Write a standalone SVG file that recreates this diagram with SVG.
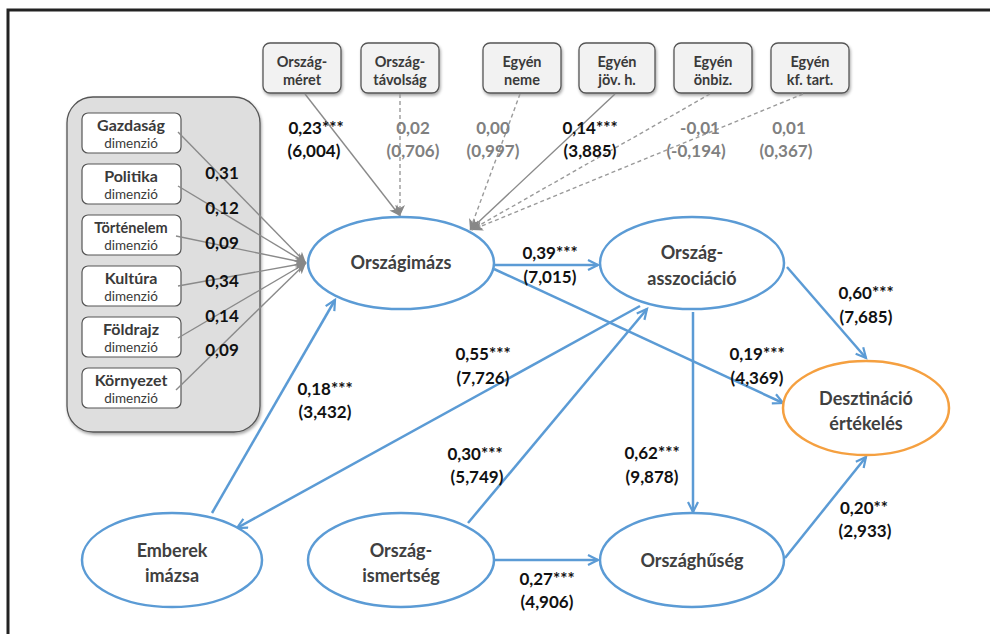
<svg xmlns="http://www.w3.org/2000/svg" width="990" height="634" viewBox="0 0 990 634">
<defs>
<filter id="sh" x="-10%" y="-10%" width="130%" height="140%">
<feDropShadow dx="1" dy="2" stdDeviation="1.5" flood-color="#000" flood-opacity="0.35"/>
</filter>
<marker id="ab" markerUnits="userSpaceOnUse" markerWidth="14" markerHeight="14" refX="11" refY="6" orient="auto">
<path d="M1,1 L11,6 L1,11" fill="none" stroke="#5b9bd5" stroke-width="2.2"/>
</marker>
<marker id="ag" markerUnits="userSpaceOnUse" markerWidth="14" markerHeight="14" refX="11" refY="6" orient="auto">
<path d="M0,1 L11,6 L0,11 L3,6 Z" fill="#888"/>
</marker>
</defs>
<style>
text{font-family:Lato,"Open Sans","Liberation Sans",sans-serif;font-weight:bold;text-anchor:middle}
.box{fill:#f2f2f2;stroke:#555;stroke-width:1.3}
.dim{fill:#fff;stroke:#555;stroke-width:1.2}
.bt{font-size:14.5px;fill:#3a3a3a}
.dn{font-size:16px;fill:#3a3a3a}
.ds{font-size:13.5px;font-weight:normal;fill:#3a3a3a}
.ell{fill:#fff;stroke:#5b9bd5;stroke-width:2.5}
.ell2{fill:#fff;stroke:#f5a040;stroke-width:2.5}
.nt{font-size:18px;fill:#404040}
.lb{font-size:17px;fill:#111}
.lg{font-size:17px;fill:#808080}
.bl{stroke:#5b9bd5;stroke-width:2.5;fill:none;marker-end:url(#ab)}
.gs{stroke:#8a8a8a;stroke-width:1.4;fill:none;marker-end:url(#ag)}
.gd{stroke:#9a9a9a;stroke-width:1.4;fill:none;stroke-dasharray:4,3;marker-end:url(#ag)}
</style>
<rect x="0" y="0" width="990" height="634" fill="#fff"/>
<rect x="8" y="10" width="1000" height="700" fill="none" stroke="#222" stroke-width="3"/>

<g id="panel">
<rect x="67" y="97" width="193" height="335" rx="26" fill="#dedede" stroke="#555" stroke-width="1.3" filter="url(#sh)"/>
</g>
<g id="dim-gazdasag"><rect class="dim" x="82" y="113" width="99" height="40" rx="6"/><text class="dn" x="131" y="131">Gazdaság</text><text class="ds" x="131" y="148">dimenzió</text></g>
<g id="dim-politika"><rect class="dim" x="82" y="164" width="99" height="40" rx="6"/><text class="dn" x="131" y="182">Politika</text><text class="ds" x="131" y="199">dimenzió</text></g>
<g id="dim-tortenelem"><rect class="dim" x="82" y="215" width="99" height="40" rx="6"/><text class="dn" x="131" y="233" style="font-size:14.5px">Történelem</text><text class="ds" x="131" y="250">dimenzió</text></g>
<g id="dim-kultura"><rect class="dim" x="82" y="266" width="99" height="40" rx="6"/><text class="dn" x="131" y="284">Kultúra</text><text class="ds" x="131" y="301">dimenzió</text></g>
<g id="dim-foldrajz"><rect class="dim" x="82" y="317" width="99" height="40" rx="6"/><text class="dn" x="131" y="335">Földrajz</text><text class="ds" x="131" y="352">dimenzió</text></g>
<g id="dim-kornyezet"><rect class="dim" x="82" y="368" width="99" height="40" rx="6"/><text class="dn" x="131" y="386">Környezet</text><text class="ds" x="131" y="403">dimenzió</text></g>

<g id="box-orszagmeret"><rect class="box" x="263" y="43" width="78" height="50" rx="7" filter="url(#sh)"/><text class="bt" x="302" y="67">Ország-</text><text class="bt" x="302" y="85">méret</text></g>
<g id="box-orszagtavolsag"><rect class="box" x="361" y="43" width="78" height="50" rx="7" filter="url(#sh)"/><text class="bt" x="400" y="67">Ország-</text><text class="bt" x="400" y="85">távolság</text></g>
<g id="box-egyenneme"><rect class="box" x="483" y="43" width="78" height="50" rx="7" filter="url(#sh)"/><text class="bt" x="522" y="67">Egyén</text><text class="bt" x="522" y="85">neme</text></g>
<g id="box-egyenjov"><rect class="box" x="579" y="43" width="76" height="50" rx="7" filter="url(#sh)"/><text class="bt" x="617" y="67">Egyén</text><text class="bt" x="617" y="85">jöv. h.</text></g>
<g id="box-egyenonbiz"><rect class="box" x="674" y="43" width="78" height="50" rx="7" filter="url(#sh)"/><text class="bt" x="713" y="67">Egyén</text><text class="bt" x="713" y="85">önbiz.</text></g>
<g id="box-egyenkf"><rect class="box" x="771" y="43" width="78" height="50" rx="7" filter="url(#sh)"/><text class="bt" x="810" y="67">Egyén</text><text class="bt" x="810" y="85">kf. tart.</text></g>

<g id="connectors">
<line class="gs" x1="178" y1="132" x2="306" y2="263"/>
<line class="gs" x1="178" y1="186" x2="306" y2="263"/>
<line class="gs" x1="176" y1="236" x2="306" y2="263"/>
<line class="gs" x1="178" y1="286" x2="306" y2="263"/>
<line class="gs" x1="178" y1="338" x2="306" y2="263"/>
<line class="gs" x1="176" y1="390" x2="306" y2="263"/>
<line class="gs" x1="305" y1="94" x2="400" y2="216"/>
<line class="gd" x1="400" y1="94" x2="400" y2="216"/>
<line class="gd" x1="520" y1="94" x2="470" y2="230"/>
<line class="gs" x1="615" y1="94" x2="470" y2="230"/>
<line class="gd" x1="710" y1="94" x2="471" y2="230"/>
<line class="gd" x1="803" y1="94" x2="472" y2="230"/>
<line class="bl" x1="494" y1="265" x2="598" y2="265"/>
<line class="bl" x1="494" y1="269" x2="783" y2="403"/>
<line class="bl" x1="787" y1="267" x2="866" y2="358"/>
<line class="bl" x1="640" y1="306" x2="237" y2="528"/>
<line class="bl" x1="468" y1="523" x2="647" y2="309"/>
<line class="bl" x1="212" y1="513" x2="335" y2="300"/>
<line class="bl" x1="693" y1="312" x2="693" y2="512"/>
<line class="bl" x1="495" y1="560" x2="598" y2="560"/>
<line class="bl" x1="785" y1="558" x2="866" y2="457"/>
</g>

<g id="labels">
<text class="lb" x="222" y="179">0,31</text>
<text class="lb" x="222" y="214">0,12</text>
<text class="lb" x="222" y="249">0,09</text>
<text class="lb" x="222" y="287">0,34</text>
<text class="lb" x="222" y="322">0,14</text>
<text class="lb" x="222" y="356">0,09</text>
<text class="lb" x="316" y="134">0,23***</text><text class="lb" x="314" y="157">(6,004)</text>
<text class="lg" x="413" y="134">0,02</text><text class="lg" x="413" y="157">(0,706)</text>
<text class="lg" x="493" y="134">0,00</text><text class="lg" x="493" y="157">(0,997)</text>
<text class="lb" x="590" y="134">0,14***</text><text class="lb" x="590" y="157">(3,885)</text>
<text class="lg" x="700" y="134">-0,01</text><text class="lg" x="696" y="157">(-0,194)</text>
<text class="lg" x="789" y="134">0,01</text><text class="lg" x="786" y="157">(0,367)</text>
<text class="lb" x="550" y="259">0,39***</text><text class="lb" x="550" y="283">(7,015)</text>
<text class="lb" x="866" y="299">0,60***</text><text class="lb" x="866" y="323">(7,685)</text>
<text class="lb" x="757" y="360">0,19***</text><text class="lb" x="757" y="384">(4,369)</text>
<text class="lb" x="483" y="360">0,55***</text><text class="lb" x="483" y="384">(7,726)</text>
<text class="lb" x="325" y="395">0,18***</text><text class="lb" x="325" y="418">(3,432)</text>
<text class="lb" x="475" y="460">0,30***</text><text class="lb" x="477" y="483">(5,749)</text>
<text class="lb" x="652" y="459">0,62***</text><text class="lb" x="652" y="483">(9,878)</text>
<text class="lb" x="864" y="514">0,20**</text><text class="lb" x="865" y="537">(2,933)</text>
<text class="lb" x="547" y="585">0,27***</text><text class="lb" x="547" y="608">(4,906)</text>
</g>

<g id="node-orszagimazs"><ellipse class="ell" cx="401" cy="263" rx="93" ry="46"/><text class="nt" x="401" y="269">Országimázs</text></g>
<g id="node-orszagasszociacio"><ellipse class="ell" cx="692" cy="263" rx="92" ry="46"/><text class="nt" x="692" y="259">Ország-</text><text class="nt" x="692" y="285">asszociáció</text></g>
<g id="node-desztinacio"><ellipse class="ell2" cx="866" cy="408" rx="83" ry="47"/><text class="nt" x="866" y="405">Desztináció</text><text class="nt" x="866" y="430">értékelés</text></g>
<g id="node-emberek"><ellipse class="ell" cx="172" cy="560" rx="90" ry="47"/><text class="nt" x="172" y="557">Emberek</text><text class="nt" x="172" y="582">imázsa</text></g>
<g id="node-orszagismertseg"><ellipse class="ell" cx="401" cy="560" rx="93" ry="47"/><text class="nt" x="401" y="557">Ország-</text><text class="nt" x="401" y="582">ismertség</text></g>
<g id="node-orszaghuseg"><ellipse class="ell" cx="692" cy="560" rx="92" ry="47"/><text class="nt" x="692" y="567">Országhűség</text></g>
</svg>
